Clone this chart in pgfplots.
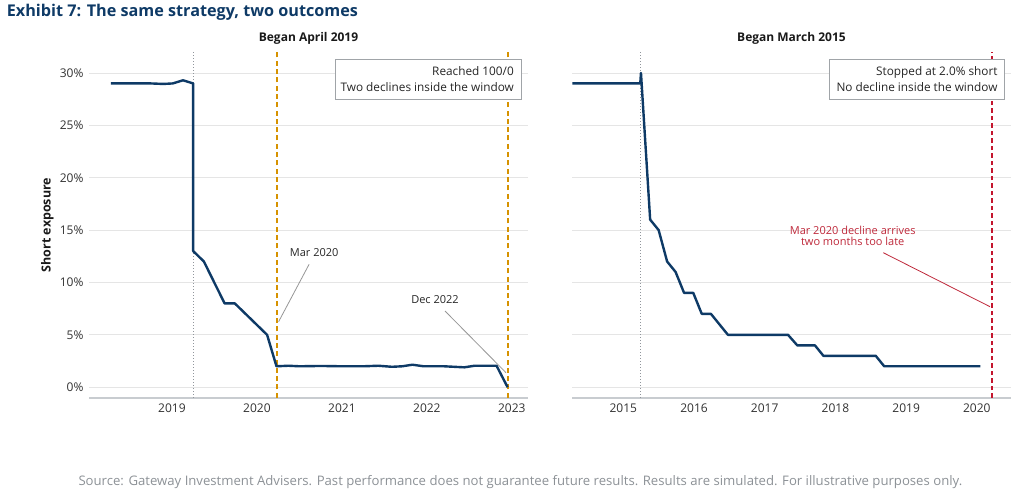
\documentclass[border=0pt]{standalone}
\usepackage{fontspec}
\setmainfont{Open Sans}
\usepackage{pgfplots}
\pgfplotsset{compat=1.18}
\definecolor{navy}{RGB}{14,58,102}
\definecolor{goldd}{RGB}{214,146,0}
\definecolor{redd}{RGB}{196,22,46}
\definecolor{redt}{RGB}{190,40,58}
\definecolor{gridg}{RGB}{229,229,229}
\definecolor{axg}{RGB}{200,204,208}
\definecolor{dotg}{RGB}{145,150,156}
\definecolor{tickg}{RGB}{50,50,50}
\definecolor{srcg}{RGB}{140,145,150}
\definecolor{boxg}{RGB}{160,164,168}
\definecolor{leadg}{RGB}{150,150,150}

\pgfplotstableread{
x y
2018.28 29.0
2018.50 29.0
2018.75 29.0
2018.90 28.95
2019.01 29.0
2019.13 29.3
2019.25 29.0
2019.25 13.0
2019.376 12.0
2019.62 8.0
2019.74 8.0
2020.12 5.0
2020.23 2.0
2020.37 2.05
2020.50 2.0
2020.75 2.03
2021.00 2.0
2021.25 2.0
2021.43 2.05
2021.59 1.95
2021.71 2.0
2021.83 2.15
2021.96 2.0
2022.20 2.0
2022.44 1.9
2022.56 2.05
2022.82 2.05
2022.95 0.0
}\leftdata

\pgfplotstableread{
x y
2014.28 29.0
2015.24 29.0
2015.25 30.0
2015.38 16.0
2015.50 15.0
2015.62 12.0
2015.74 11.0
2015.86 9.0
2015.99 9.0
2016.11 7.0
2016.24 7.0
2016.48 5.0
2017.33 5.0
2017.46 4.0
2017.71 4.0
2017.83 3.0
2018.57 3.0
2018.69 2.0
2020.05 2.0
}\rightdata

\pgfplotsset{
  panel/.style={
    scale only axis,
    height=345.7bp,
    anchor=south west,
    ymin=-1, ymax=32,
    axis x line*=bottom,
    axis y line*=left,
    y axis line style={draw=none},
    x axis line style={draw=axg, line width=2bp},
    major tick length=0pt,
    xtick style={draw=none},
    ytick style={draw=none},
    ymajorgrids,
    grid style={gridg, line width=0.9bp},
    ytick={0,5,10,15,20,25,30},
    tick label style={font=\fontsize{12bp}{14bp}\selectfont, text=tickg},
    xticklabel style={yshift=-3bp},
    yticklabel style={xshift=-2bp},
  }
}

\begin{document}
\begin{tikzpicture}
\path[use as bounding box] (0,0) rectangle (1024bp,-495bp);

% Left panel
\begin{axis}[panel,
  width=439bp, at={(89bp,-397.7bp)},
  xmin=2018.024, xmax=2023.19,
  xtick={2019,2020,2021,2022,2023},
  xticklabels={2019,2020,2021,2022,2023},
  yticklabels={0\%,5\%,10\%,15\%,20\%,25\%,30\%},
]
\addplot[draw=dotg, line width=1bp, dash pattern=on 1bp off 2bp] coordinates {(2019.25,-1) (2019.25,32)};
\addplot[draw=goldd, line width=1.8bp, dash pattern=on 5bp off 3.3bp] coordinates {(2020.236,-1) (2020.236,32)};
\addplot[draw=goldd, line width=1.8bp, dash pattern=on 5bp off 3.3bp] coordinates {(2022.953,-1) (2022.953,32)};
\addplot[draw=navy, line width=2.4bp, line join=round] table[x=x,y=y] {\leftdata};
\end{axis}

% Right panel
\begin{axis}[panel,
  width=438.4bp, at={(572.3bp,-397.7bp)},
  xmin=2014.279, xmax=2020.479,
  xtick={2015,2016,2017,2018,2019,2020},
  xticklabels={2015,2016,2017,2018,2019,2020},
  yticklabels={},
]
\addplot[draw=dotg, line width=1bp, dash pattern=on 1bp off 2bp] coordinates {(2015.25,-1) (2015.25,32)};
\addplot[draw=redd, line width=1.8bp, dash pattern=on 4.5bp off 3bp] coordinates {(2020.215,-1) (2020.215,32)};
\addplot[draw=navy, line width=2.4bp, line join=round] table[x=x,y=y] {\rightdata};
\end{axis}

% Titles
\node[anchor=base west, inner sep=0, text=navy, font=\bfseries\fontsize{16.2bp}{18bp}\selectfont] at (6.7bp,-16.7bp) {Exhibit 7: The same strategy, two outcomes};
\node[anchor=base, inner sep=0, text=black!90, font=\bfseries\fontsize{12bp}{14bp}\selectfont] at (308.5bp,-41.3bp) {Began April 2019};
\node[anchor=base, inner sep=0, text=black!90, font=\bfseries\fontsize{12bp}{14bp}\selectfont] at (791.5bp,-41.3bp) {Began March 2015};
\node[anchor=base, inner sep=0, rotate=90, text=black!90, font=\bfseries\fontsize{12.5bp}{14bp}\selectfont] at (50.7bp,-225bp) {Short exposure};

% Boxes
\draw[boxg, line width=1bp, fill=white] (335bp,-59bp) rectangle (521bp,-99bp);
\node[anchor=base east, inner sep=0, text=black!85, font=\fontsize{11.8bp}{14bp}\selectfont] at (514bp,-75.3bp) {Reached 100/0};
\node[anchor=base east, inner sep=0, text=black!85, font=\fontsize{11.8bp}{14bp}\selectfont] at (514bp,-91bp) {Two declines inside the window};
\draw[boxg, line width=1bp, fill=white] (829bp,-59bp) rectangle (1004.3bp,-99bp);
\node[anchor=base east, inner sep=0, text=black!85, font=\fontsize{11.8bp}{14bp}\selectfont] at (997.7bp,-75.3bp) {Stopped at 2.0\% short};
\node[anchor=base east, inner sep=0, text=black!85, font=\fontsize{11.8bp}{14bp}\selectfont] at (997.7bp,-91bp) {No decline inside the window};

% Annotations left
\draw[leadg, line width=0.8bp] (309.1bp,-264.3bp) -- (278.6bp,-321.7bp);
\node[anchor=base, inner sep=0, text=black!85, font=\fontsize{11bp}{13bp}\selectfont] at (314.2bp,-256.7bp) {Mar 2020};
\draw[leadg, line width=0.8bp] (445bp,-311bp) -- (506bp,-372.7bp);
\node[anchor=base, inner sep=0, text=black!85, font=\fontsize{11bp}{13bp}\selectfont] at (435bp,-303.3bp) {Dec 2022};

% Annotation right
\draw[redt, line width=0.8bp] (883.3bp,-252.7bp) -- (990bp,-306.7bp);
\node[anchor=base, inner sep=0, text=redt, font=\fontsize{11bp}{12bp}\selectfont] at (852.7bp,-234.3bp) {Mar 2020 decline arrives};
\node[anchor=base, inner sep=0, text=redt, font=\fontsize{11bp}{12bp}\selectfont] at (852.7bp,-245.7bp) {two months too late};

% Source
\node[anchor=base west, inner sep=0, text=srcg, font=\fontsize{13.15bp}{15bp}\selectfont] at (78.3bp,-485bp) {Source: Gateway Investment Advisers. Past performance does not guarantee future results. Results are simulated. For illustrative purposes only.};
\end{tikzpicture}
\end{document}
